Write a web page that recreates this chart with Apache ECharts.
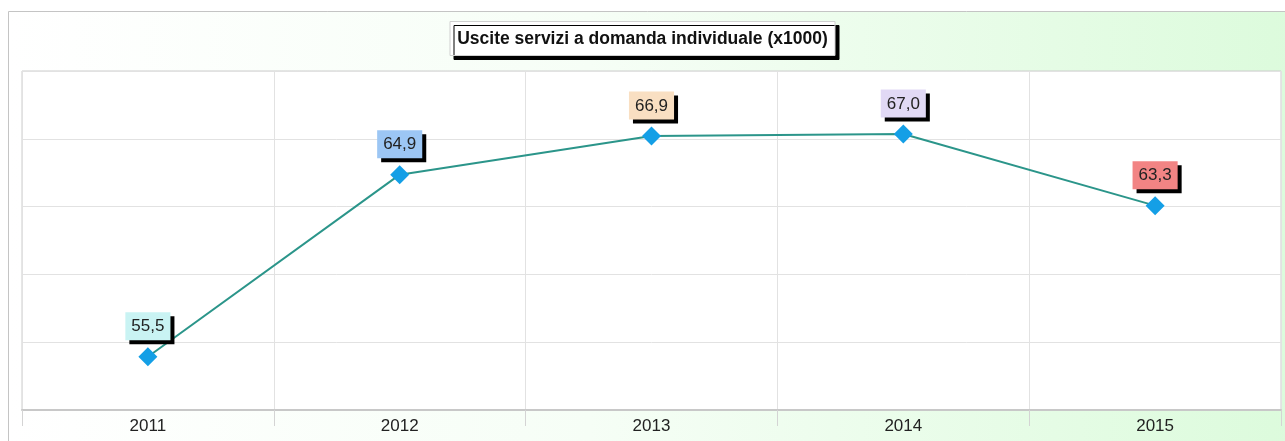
<!DOCTYPE html>
<html>
<head>
<meta charset="utf-8">
<style>
  html, body { margin: 0; padding: 0; background: #ffffff; }
  #chart { width: 1285px; height: 441px; }
</style>
<script src="https://cdn.jsdelivr.net/npm/echarts@6/dist/echarts.min.js"></script>
</head>
<body>
<div id="chart"></div>
<script>
// Uscite servizi a domanda individuale, in migliaia
const years = ['2011', '2012', '2013', '2014', '2015'];
const values = [55.5, 64.9, 66.9, 67.0, 63.3];
const labelColors = ['#c9f3f3', '#9cc6f4', '#f9dfc2', '#e1d9f5', '#f28484'];
const chartTitle = 'Uscite servizi a domanda individuale (x1000)';

const fmt = v => v.toFixed(1).replace('.', ',');

const chart = echarts.init(document.getElementById('chart'));

chart.setOption({
  animation: false,
  graphic: [{
    type: 'rect',
    z: -10,
    silent: true,
    shape: { x: 8.5, y: 11.5, width: 1290, height: 440 },
    style: {
      fill: {
        type: 'linear', x: 0, y: 0, x2: 1, y2: 0,
        colorStops: [
          { offset: 0, color: '#ffffff' },
          { offset: 0.45, color: '#f6fef6' },
          { offset: 1, color: '#dcfbdc' }
        ]
      },
      stroke: '#c4c4c4',
      lineWidth: 1
    }
  }],
  title: {
    text: chartTitle,
    left: 'center',
    top: 21,
    backgroundColor: '#ffffff',
    borderColor: '#d0d0d0',
    borderWidth: 1,
    padding: [9, 7, 8, 7],
    shadowColor: '#000000',
    shadowBlur: 0,
    shadowOffsetX: 4,
    shadowOffsetY: 4,
    textStyle: {
      fontFamily: 'Liberation Sans, Arial, sans-serif',
      fontSize: 17.5,
      fontWeight: 'bold',
      color: '#111111'
    }
  },
  grid: {
    left: 22, right: 4, top: 71, bottom: 31,
    show: true,
    backgroundColor: '#ffffff',
    borderColor: '#cccccc',
    borderWidth: 1
  },
  xAxis: {
    type: 'category',
    data: years,
    boundaryGap: true,
    axisLine: { show: true, lineStyle: { color: '#c8c8c8', width: 2 } },
    axisTick: { show: true, length: 16, lineStyle: { color: '#d4d4d4' } },
    splitLine: { show: true, lineStyle: { color: '#e2e2e2' } },
    axisLabel: {
      margin: 8,
      fontFamily: 'Liberation Sans, Arial, sans-serif',
      fontSize: 17,
      color: '#222222'
    }
  },
  yAxis: [{
    type: 'value',
    min: 52.75,
    max: 70.25,
    axisLabel: { show: false },
    axisLine: { show: false },
    axisTick: { show: false },
    splitLine: { show: false }
  }, {
    // lays out the five horizontal grid bands
    type: 'value',
    min: 0,
    max: 5,
    interval: 1,
    axisLabel: { show: false },
    axisLine: { show: false },
    axisTick: { show: false },
    splitLine: { show: true, lineStyle: { color: '#e2e2e2' } }
  }],
  series: [{
    type: 'line',
    yAxisIndex: 0,
    data: values.map((v, i) => ({
      value: v,
      label: { backgroundColor: labelColors[i] }
    })),
    lineStyle: { color: '#2b958a', width: 2 },
    symbol: 'diamond',
    symbolSize: 19,
    itemStyle: { color: '#149fe6' },
    label: {
      show: true,
      position: 'top',
      distance: 7,
      formatter: p => fmt(p.value),
      fontFamily: 'Liberation Sans, Arial, sans-serif',
      fontSize: 17,
      color: '#222222',
      padding: [6, 6, 5, 6],
      shadowColor: '#000000',
      shadowBlur: 0,
      shadowOffsetX: 4,
      shadowOffsetY: 4
    }
  }]
});
</script>
</body>
</html>
